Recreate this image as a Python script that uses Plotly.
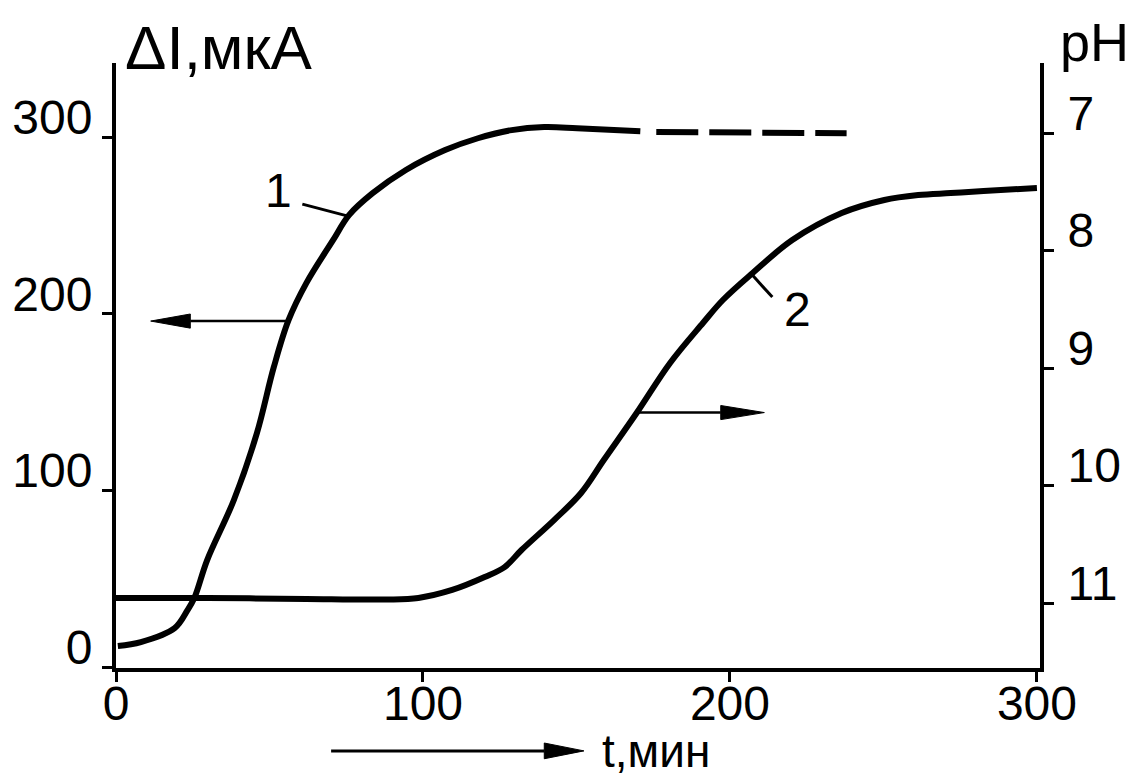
import plotly.graph_objects as go

# Curve 1: ΔI (мкА) vs t (мин), left axis
t1 = [0.6, 8.1, 19.1, 23.3, 25.5, 29.7, 38.4, 45.9, 51.4, 56.2, 62.0, 70.7, 75.9,
      83.6, 94.3, 107.2, 117.9, 128.9, 139.5, 150.2, 170.8]
di1 = [12.0, 14.2, 22.1, 32.3, 39.1, 60.6, 94.6, 132.5, 169.8, 196.4, 217.4, 241.7,
       255.9, 268.3, 281.3, 292.7, 299.4, 304.0, 305.7, 305.1, 303.4]
# Curve 1, dashed continuation
t1_dash = [176.0, 207.3, 238.0]
di1_dash = [302.9, 302.9, 302.3]

# Curve 2: pH vs t, right axis
t2 = [0, 29.7, 62.0, 87.8, 98.5, 109.5, 120.1, 126.6, 132.1, 142.7, 151.5, 158.9,
      169.6, 180.5, 191.2, 197.7, 207.4, 220.3, 236.4, 250.3, 261.3, 271.9, 282.6, 300]
ph2 = [10.957, 10.957, 10.966, 10.97, 10.957, 10.889, 10.779, 10.694, 10.549, 10.294,
       10.064, 9.783, 9.383, 8.957, 8.617, 8.421, 8.191, 7.911, 7.681, 7.570, 7.528,
       7.511, 7.494, 7.468]

x_ticks = [0, 100, 200, 300]
di_ticks = [0, 100, 200, 300]
ph_ticks = [7, 8, 9, 10, 11]

FONT = "Liberation Sans"
BLACK = "black"

fig = go.Figure()
fig.add_trace(go.Scatter(x=t1, y=di1, mode="lines", yaxis="y",
                         line=dict(color=BLACK, width=6, shape="spline", smoothing=1.0),
                         showlegend=False, hoverinfo="skip"))
fig.add_trace(go.Scatter(x=t1_dash, y=di1_dash, mode="lines", yaxis="y",
                         line=dict(color=BLACK, width=6, dash="42px,11px"),
                         showlegend=False, hoverinfo="skip"))
fig.add_trace(go.Scatter(x=t2, y=ph2, mode="lines", yaxis="y2",
                         line=dict(color=BLACK, width=6, shape="spline", smoothing=1.0),
                         showlegend=False, hoverinfo="skip"))

axis_common = dict(showline=True, linecolor=BLACK, linewidth=4, ticks="outside",
                   ticklen=10, tickwidth=3, tickcolor=BLACK, showgrid=False,
                   zeroline=False, tickfont=dict(family=FONT, size=48, color=BLACK))

shapes = [
    # arrow from curve 1 to left axis
    dict(type="line", xref="x", yref="y", x0=56.2, y0=195.9, x1=24.2, y1=195.9,
         line=dict(color=BLACK, width=2.5)),
    dict(type="path", xref="x", yref="y", path="M 11.3,195.9 L 24.2,199.9 L 24.2,191.9 Z",
         fillcolor=BLACK, line=dict(color=BLACK, width=1)),
    # arrow from curve 2 to right axis
    dict(type="line", xref="x", yref="y2", x0=170.2, y0=9.379, x1=197.0, y1=9.379,
         line=dict(color=BLACK, width=2.5)),
    dict(type="path", xref="x", yref="y2", path="M 211.2,9.379 L 197.0,9.319 L 197.0,9.439 Z",
         fillcolor=BLACK, line=dict(color=BLACK, width=1)),
    # arrow under x axis
    dict(type="line", xref="paper", yref="paper", x0=0.2328, y0=-0.137, x1=0.4635, y1=-0.137,
         line=dict(color=BLACK, width=3)),
    dict(type="path", xref="paper", yref="paper",
         path="M 0.5064,-0.137 L 0.4635,-0.124 L 0.4635,-0.150 Z",
         fillcolor=BLACK, line=dict(color=BLACK, width=1)),
    # leader lines for labels
    dict(type="line", xref="x", yref="y", x0=60.7, y0=262.1, x1=75.6, y1=255.3,
         line=dict(color=BLACK, width=3)),
    dict(type="line", xref="x", yref="y2", x0=207.3, y0=8.209, x1=213.8, y1=8.396,
         line=dict(color=BLACK, width=3)),
]

annotations = [
    dict(text="1", x=53.0, y=270.0, xref="x", yref="y", showarrow=False,
         font=dict(family=FONT, size=48, color=BLACK)),
    dict(text="2", x=221.9, y=8.506, xref="x", yref="y2", showarrow=False,
         font=dict(family=FONT, size=48, color=BLACK)),
    dict(text="ΔI,мкА", x=0.008, y=1.025, xref="paper", yref="paper", xanchor="left",
         yanchor="middle", showarrow=False, font=dict(family=FONT, size=62, color=BLACK)),
    dict(text="pH", x=1.0195, y=1.034, xref="paper", yref="paper", xanchor="left",
         yanchor="middle", showarrow=False, font=dict(family=FONT, size=54, color=BLACK)),
    dict(text="t,мин", x=0.5247, y=-0.138, xref="paper", yref="paper", xanchor="left",
         yanchor="middle", showarrow=False, borderpad=0,
         font=dict(family=FONT, size=46, color=BLACK)),
]

fig.update_layout(
    width=1141, height=776, autosize=False,
    margin=dict(l=108, r=101, t=63, b=108, pad=0),
    paper_bgcolor="white", plot_bgcolor="white",
    xaxis=dict(range=[0, 301], tickvals=x_ticks, ticktext=[str(v) for v in x_ticks],
               ticklabelstandoff=-20, **axis_common),
    yaxis=dict(range=[-0.5, 342], tickvals=di_ticks, ticktext=[str(v) for v in di_ticks],
               ticklabelshift=-20, **axis_common),
    yaxis2=dict(range=[11.553, 6.404], tickvals=ph_ticks, ticktext=[str(v) for v in ph_ticks],
                overlaying="y", side="right", ticklabelshift=20, ticklabelstandoff=4,
                **axis_common),
    shapes=shapes, annotations=annotations,
)

fig.write_html("out.html")
